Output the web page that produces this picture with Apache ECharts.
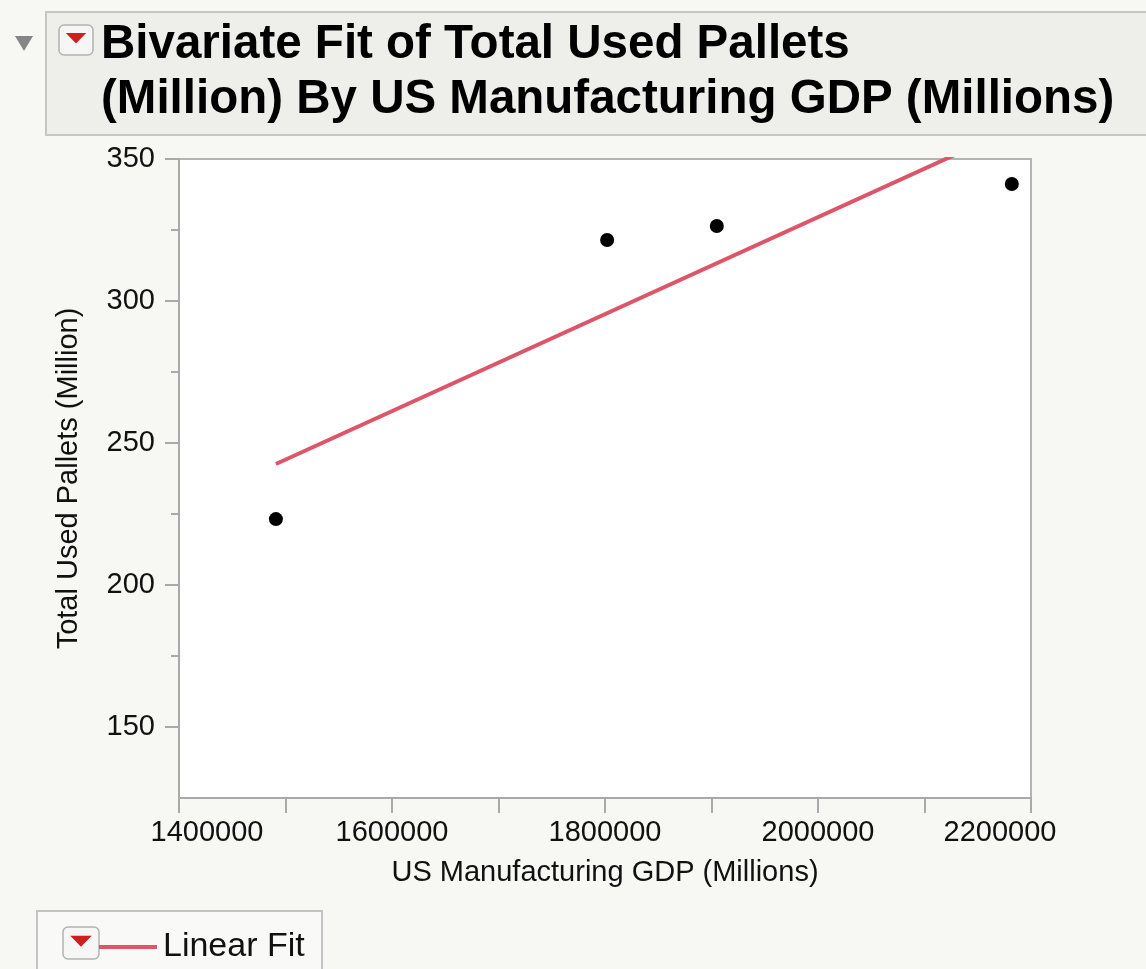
<!DOCTYPE html>
<html>
<head>
<meta charset="utf-8">
<title>Bivariate Fit of Total Used Pallets (Million) By US Manufacturing GDP (Millions)</title>
<script src="https://cdn.jsdelivr.net/npm/echarts@6/dist/echarts.min.js"></script>
<style>
  html, body { margin: 0; padding: 0; background: #f7f7f3; }
  #chart { width: 1146px; height: 969px; }
</style>
</head>
<body>
<div id="chart"></div>
<script>
// Observations: US manufacturing GDP (millions) vs total used pallets (million)
const gdp = [1491000, 1802000, 1905000, 2182000];
const pallets = [223.2, 321.5, 326.4, 341.2];

// Linear fit endpoints (at the smallest and largest GDP observation)
const fitGdp = [1491000, 2182000];
const fitPallets = [242.6, 360.6];

// Axis ticks
const xMin = 1400000, xMax = 2200000, xStep = 100000;
const yMin = 125, yMax = 350;
const yMajorTicks = [150, 200, 250, 300, 350];
const yMinorTicks = [175, 225, 275, 325];

const titleLines = [
  'Bivariate Fit of Total Used Pallets',
  '(Million) By US Manufacturing GDP (Millions)'
];

const FONT = '"Liberation Sans", Arial, Helvetica, sans-serif';
const AXIS_GREY = '#a9a9a9';
const FIT_RED = '#dc5568';

const chart = echarts.init(document.getElementById('chart'), null, { renderer: 'canvas' });

const scatterData = gdp.map((g, i) => [g, pallets[i]]);
const fitData = fitGdp.map((g, i) => [g, fitPallets[i]]);

// small "red triangle" menu button
function menuButton(x, y, w, h) {
  return [
    { type: 'rect', shape: { x: x, y: y, width: w, height: h, r: 5 },
      style: { fill: '#f6f6f4', stroke: '#b3b3b3', lineWidth: 1.5 } },
    { type: 'polygon',
      shape: { points: [[x + w * 0.2, y + h * 0.27], [x + w * 0.8, y + h * 0.27], [x + w * 0.5, y + h * 0.62]] },
      style: { fill: '#cf1f1f' } }
  ];
}

const option = {
  backgroundColor: '#f7f7f3',
  animation: false,
  textStyle: { fontFamily: FONT },
  grid: {
    left: 179, right: 115, top: 159, bottom: 171,
    show: true, backgroundColor: '#ffffff',
    borderColor: '#b4b4b4', borderWidth: 2
  },
  legend: {
    data: ['Linear Fit'],
    left: 99, top: 930, padding: 0,
    icon: 'rect', itemWidth: 58, itemHeight: 4, itemGap: 10,
    textStyle: { fontFamily: FONT, fontSize: 34, color: '#111', padding: [0, 0, 0, 1] },
    selectedMode: false
  },
  xAxis: {
    type: 'value',
    min: xMin, max: xMax, interval: xStep,
    name: 'US Manufacturing GDP (Millions)',
    nameLocation: 'middle', nameGap: 60,
    nameTextStyle: { fontFamily: FONT, fontSize: 29, color: '#111' },
    axisLine: { show: true, lineStyle: { color: AXIS_GREY, width: 2 } },
    axisTick: { show: true, length: 15, lineStyle: { color: AXIS_GREY, width: 2 } },
    splitLine: { show: false },
    axisLabel: {
      margin: 20, fontFamily: FONT, fontSize: 29, color: '#111',
      formatter: function (v) {
        if (v % 200000 !== 0) return '';
        if (v === xMin) return '{first|' + v + '}';
        if (v === xMax) return '{last|' + v + '}';
        return String(v);
      },
      rich: {
        first: { fontFamily: FONT, fontSize: 29, color: '#111', padding: [0, 0, 0, 56] },
        last: { fontFamily: FONT, fontSize: 29, color: '#111', padding: [0, 62, 0, 0] }
      }
    }
  },
  yAxis: [
    {
      type: 'value',
      min: yMin, max: yMax,
      name: 'Total Used Pallets (Million)',
      nameLocation: 'middle', nameGap: 96, nameRotate: 90,
      nameTextStyle: { fontFamily: FONT, fontSize: 29, color: '#111' },
      axisLine: { show: true, lineStyle: { color: AXIS_GREY, width: 2 } },
      axisTick: { show: true, length: 14, customValues: yMajorTicks, lineStyle: { color: AXIS_GREY, width: 2 } },
      splitLine: { show: false },
      axisLabel: { margin: 24, fontFamily: FONT, fontSize: 29, color: '#111', customValues: yMajorTicks }
    },
    {
      type: 'value',
      min: yMin, max: yMax, position: 'left', offset: 0,
      axisLine: { show: false },
      axisTick: { show: true, length: 8, customValues: yMinorTicks, lineStyle: { color: AXIS_GREY, width: 2 } },
      axisLabel: { show: false },
      splitLine: { show: false }
    }
  ],
  series: [
    {
      name: 'Pallets',
      type: 'scatter',
      data: scatterData,
      symbol: 'circle', symbolSize: 14,
      itemStyle: { color: '#000000', opacity: 1 },
      z: 3
    },
    {
      name: 'Linear Fit',
      type: 'line',
      data: fitData,
      showSymbol: false, symbol: 'none',
      clip: true,
      lineStyle: { color: FIT_RED, width: 4 },
      itemStyle: { color: FIT_RED },
      z: 2
    }
  ],
  graphic: [
    // report header
    { type: 'rect', shape: { x: 46, y: 12, width: 1120, height: 123 },
      style: { fill: '#eeeeea', stroke: '#c6c6c6', lineWidth: 2 }, z: 0 },
    { type: 'polygon', shape: { points: [[15, 36], [33, 36], [24, 51]] },
      style: { fill: '#858585' } },
    ...menuButton(59, 25, 34, 30),
    { type: 'text', x: 101, y: 45,
      style: { text: titleLines[0], font: 'bold 47.5px ' + FONT, fill: '#000', textVerticalAlign: 'middle' } },
    { type: 'text', x: 101, y: 100,
      style: { text: titleLines[1], font: 'bold 47.5px ' + FONT, fill: '#000', textVerticalAlign: 'middle' } },
    // legend frame
    { type: 'rect', shape: { x: 37, y: 911, width: 285, height: 80 },
      style: { fill: '#f9f9f7', stroke: '#c2c2c2', lineWidth: 2 }, z: -1 },
    ...menuButton(63, 927, 36, 32)
  ]
};

chart.setOption(option);
</script>
</body>
</html>
